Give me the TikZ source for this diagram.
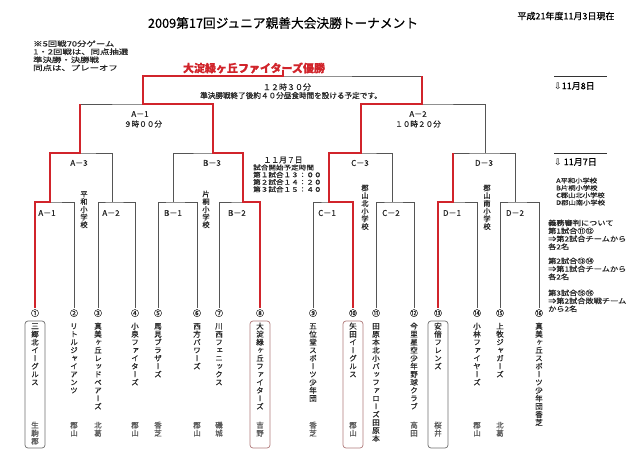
\documentclass[tikz,border=0pt]{standalone}
\usepackage{fontspec}
\usepackage{graphicx}
\setmainfont{Noto Sans CJK JP}[FakeBold=0.6]
\newfontfamily\vjp[RawFeature={+vert},FakeBold=0.6]{Noto Sans CJK JP}
\newfontfamily\dejavu{DejaVu Sans}
\definecolor{wred}{HTML}{D1242B}
\definecolor{lgray}{HTML}{555555}
\definecolor{boxr}{HTML}{B07A7A}
\definecolor{boxg}{HTML}{707070}
\newcommand\vt[1]{\vbox{\offinterlineskip\expandafter\vtloop#1\relax}}
\def\vtloop#1{\ifx#1\relax\else\hbox to 1em{\hss\vrule height .9em depth .17em width 0pt\relax#1\hss}\expandafter\vtloop\fi}
\newcommand\blk[3][0.85]{\scalebox{1}[#1]{\begin{tabular}{@{}#2@{}}#3\end{tabular}}}
\begin{document}
\begin{tikzpicture}[x=1pt,y=-1pt,
  gl/.style={draw=lgray, line width=0.6pt},
  rl/.style={draw=wred, line width=2.6pt},
  rule/.style={draw=black!80, line width=1pt},
  vname/.style={anchor=north, inner sep=0pt, font=\vjp\fontsize{7.5}{8}\selectfont, text=black!85},
  vloc/.style={anchor=north, inner sep=0pt, font=\vjp\fontsize{7.5}{8}\selectfont, text=black!65},
  vsch/.style={anchor=north, inner sep=0pt, font=\vjp\fontsize{7.2}{8}\selectfont, text=black!85},
  num/.style={anchor=north, inner sep=1.2pt, font=\fontsize{8}{9}\selectfont, text=black!85},
  lab/.style={inner sep=0pt, font=\fontsize{8}{9}\selectfont, text=black!85},
  note/.style={anchor=north west, inner sep=0pt, font=\fontsize{8.2}{8.2}\selectfont, text=black!85},
  wboxr/.style={draw=boxr, line width=0.7pt, rounded corners=3pt, minimum width=20pt, minimum height=127pt, inner sep=0pt},
  wboxg/.style={draw=boxg, line width=0.7pt, rounded corners=3pt, minimum width=20pt, minimum height=127pt, inner sep=0pt}]
\useasboundingbox (0,0) rectangle (640,466);
\fill[white] (0,0) rectangle (640,466);

% headings
\node[inner sep=0pt, font=\fontsize{12.7}{14}\selectfont] (title) at (283,23) {2009第17回ジュニア親善大会決勝トーナメント};
\node[inner sep=0pt, font=\fontsize{9}{10}\selectfont] (date) at (566,16) {平成21年度11月3日現在};
\node[inner sep=0pt, font=\bfseries\fontsize{11}{12}\selectfont, text=wred] (champ) at (254,68) {大淀緑ヶ丘ファイターズ優勝};
\node[note, font=\fontsize{9.4}{9.3}\selectfont] (rules) at (33,40.3) {\blk[0.75]{l}{※5回戦70分ゲーム\\1・2回戦は、同点抽選\\準決勝・決勝戦\\同点は、プレーオフ}};

% winner boxes
\node[wboxg] (w1) at (35,384.5) {};
\node[wboxr] (w8) at (260,384.5) {};
\node[wboxr] (w10) at (353,384.5) {};
\node[wboxg] (w13) at (438,384.5) {};

% leaves
\foreach \i/\x/\c in {1/35/①,2/74/②,3/98/③,4/135/④,5/158/⑤,6/197/⑥,7/219/⑦,8/260/⑧,9/313/⑨,10/353/⑩,11/376/⑪,12/414/⑫,13/438/⑬,14/477/⑭,15/500/⑮,16/539/⑯}
  \node[num] (n\i) at (\x,308) {\c};
\foreach \i/\x/\nm in {1/35/三郷北イーグルス,2/74/リトルジャイアンツ,3/98/真美ヶ丘レッドベアーズ,4/135/小泉ファイターズ,5/158/馬見ブラザーズ,6/197/西方パワーズ,7/219/川西フェニックス,8/260/大淀緑ヶ丘ファイターズ,9/313/五位堂スポーツ少年団,10/353/矢田イーグルス,11/376/田原本北小バッファローズ田原本,12/414/今里星空少年野球クラブ,13/438/安倍フレンズ,14/477/小林ファイヤーズ,15/500/上牧ジャガーズ,16/539/真美ヶ丘スポーツ少年団香芝}
  \node[vname] (t\i) at (\x,322) {\vt{\nm}};
\foreach \i/\x/\lc in {1/35/生駒郡,2/74/郡山,3/98/北葛,4/135/郡山,5/158/香芝,6/197/郡山,7/219/磯城,8/260/吉野,9/313/香芝,10/353/郡山,12/414/高田,13/438/桜井,14/477/郡山,15/500/北葛}
  \node[vloc] (p\i) at (\x,421) {\vt{\lc}};

% junctions
\coordinate (a1) at (50,202);  \coordinate (a2) at (112,202);
\coordinate (b1) at (173,202); \coordinate (b2) at (243,202);
\coordinate (c1) at (329,202); \coordinate (c2) at (392,202);
\coordinate (d1) at (453,202); \coordinate (d2) at (515,202);
\coordinate (a3) at (80,153);  \coordinate (b3) at (213,153);
\coordinate (c3) at (361,153); \coordinate (d3) at (485,153);
\coordinate (sa) at (143,104); \coordinate (sb) at (422,104);
\coordinate (f) at (283,76);

% gray bracket
\draw[gl] (n1.north) |- (a1) -| (n2.north);
\draw[gl] (n3.north) |- (a2) -| (n4.north);
\draw[gl] (n5.north) |- (b1) -| (n6.north);
\draw[gl] (n7.north) |- (b2) -| (n8.north);
\draw[gl] (n9.north) |- (c1) -| (n10.north);
\draw[gl] (n11.north) |- (c2) -| (n12.north);
\draw[gl] (n13.north) |- (d1) -| (n14.north);
\draw[gl] (n15.north) |- (d2) -| (n16.north);
\draw[gl] (a1) |- (a3) -| (a2);
\draw[gl] (b1) |- (b3) -| (b2);
\draw[gl] (c1) |- (c3) -| (c2);
\draw[gl] (d1) |- (d3) -| (d2);
\draw[gl] (a3) |- (sa) -| (b3);
\draw[gl] (c3) |- (sb) -| (d3);
\draw[gl] (sa) |- (f) -| (sb);

% red paths
\draw[rl] (n1.north) |- (a1) |- (a3) -- (a3 |- sa);
\draw[rl] (n8.north) |- (b2) |- (b3) |- (sa) |- (f) -- ++(0,-6);
\draw[rl] (n10.north) |- (c1) |- (c3) |- (sb) -- (sb |- f);
\draw[rl] (n13.north) |- (d1) -- (d1 |- d3);

% match labels
\node[lab] (la1) at (47,213) {A－1};
\node[lab] (la2) at (111,213) {A－2};
\node[lab] (lb1) at (173,213) {B－1};
\node[lab] (lb2) at (237,213) {B－2};
\node[lab] (lc1) at (327,213) {C－1};
\node[lab] (lc2) at (391,213) {C－2};
\node[lab] (ld1) at (452,213) {D－1};
\node[lab] (ld2) at (515,213) {D－2};
\node[lab] (la3) at (79,163) {A－3};
\node[lab] (lb3) at (212,163) {B－3};
\node[lab] (lc3) at (360,163) {C－3};
\node[lab] (ld3) at (484,163) {D－3};
\node[lab] (lsa) at (140,114) {A－1};
\node[lab, font=\fontsize{7.6}{9}\selectfont] (tsa) at (143,124) {９時００分};
\node[lab] (lsb) at (418,114) {A－2};
\node[lab, font=\fontsize{7.6}{9}\selectfont] (tsb) at (418,124) {１０時２０分};
\node[lab] (tf) at (287,87) {１２時３０分};
\node[lab, font=\fontsize{7.6}{9}\selectfont] (tf2) at (291,95.5) {準決勝戦終了後約４０分昼食時間を設ける予定です。};

% school vertical labels
\node[vsch] (sA) at (84,190) {\vt{平和小学校}};
\node[vsch] (sB) at (206,190) {\vt{片桐小学校}};
\node[vsch] (sC) at (365,184) {\vt{郡山北小学校}};
\node[vsch] (sD) at (487,184) {\vt{郡山南小学校}};

% middle info
\node[lab, font=\fontsize{7.8}{9}\selectfont] (d7) at (283,160) {１１月７日};
\node[note, font=\fontsize{7.6}{7.2}\selectfont] (times) at (253,164.3) {\blk{l}{試合開始予定時間\\第１試合１３：００\\第２試合１４：２０\\第３試合１５：４０}};

% right column
\draw[rule] (554,76) -- (607,76);
\node[anchor=west, inner sep=0pt, font=\fontsize{9}{10}\selectfont] (r8) at (554,86) {{\dejavu ⇩}11月8日};
\draw[rule] (554,153) -- (607,153);
\node[anchor=west, inner sep=0pt, font=\fontsize{9}{10}\selectfont] (r7) at (554,162) {{\dejavu ⇩} 11月7日};
\node[note, font=\fontsize{7.3}{8.2}\selectfont] (schools) at (556,177.5) {\blk{l}{A平和小学校\\B片桐小学校\\C郡山北小学校\\D郡山南小学校}};
\node[note, font=\fontsize{8.2}{8}\selectfont] (duty1) at (548,219.5) {\blk{l}{義務審判について\\第1試合⑪⑫\\⇒第2試合チームから\\各2名}};
\node[note, font=\fontsize{8.2}{8}\selectfont] (duty2) at (548,257.5) {\blk{l}{第2試合⑬⑭\\⇒第1試合チームから\\各2名}};
\node[note, font=\fontsize{8.2}{8}\selectfont] (duty3) at (548,289.5) {\blk{l}{第3試合⑮⑯\\⇒第2試合敗戦チーム\\から2名}};
\end{tikzpicture}
\end{document}
